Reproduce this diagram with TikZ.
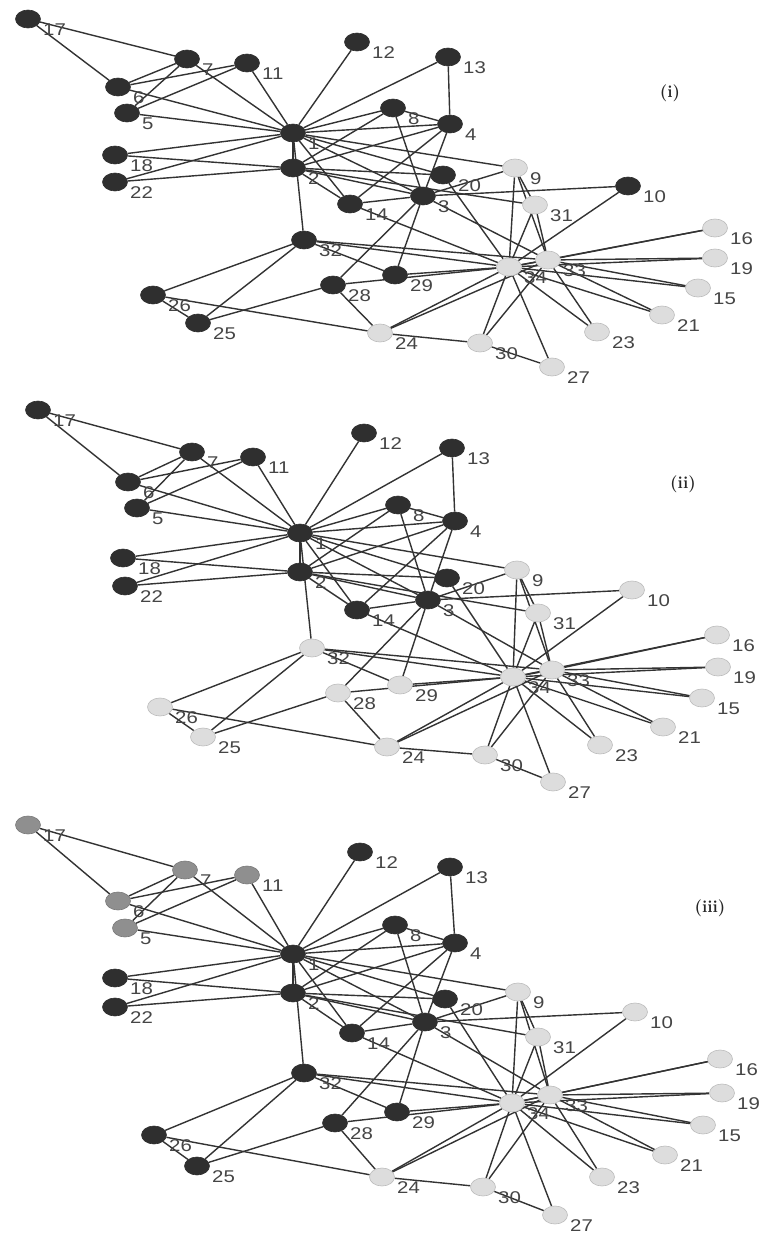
\documentclass[tikz,border=0pt]{standalone}
\usepackage{fontspec}
\newfontfamily\lblfont{Liberation Sans}
\newcommand\wide[1]{\scalebox{1.2}[1]{#1}}
\pgfdeclarelayer{paper}
\pgfdeclarelayer{bg}
\pgfsetlayers{paper,bg,main}
\definecolor{dk}{HTML}{2F2F2F}
\definecolor{md}{HTML}{8F8F8F}
\definecolor{lt}{HTML}{DDDDDD}
\definecolor{ltb}{HTML}{BDBDBD}
\definecolor{edgec}{HTML}{333333}
\definecolor{labc}{HTML}{454545}
\tikzset{
  vert/.style={ellipse, minimum width=25pt, minimum height=18pt, inner sep=0pt, line width=0.6pt},
  D/.style={vert, fill=dk, draw=dk},
  M/.style={vert, fill=md, draw=md!85!black},
  L/.style={vert, fill=lt, draw=ltb},
  lbl/.style={font=\lblfont\fontsize{17}{17}\selectfont, text=labc, inner sep=0pt, anchor=west},
  edge/.style={draw=edgec, line width=1.4pt},
  ptitle/.style={font=\bfseries\fontsize{17}{17}\selectfont, text=black!85}
}
\usetikzlibrary{shapes.geometric}
% the 78 friendships of the karate club
\newcommand\clubedges[1]{%
  \begin{pgfonlayer}{bg}
  \foreach \a/\b in {1/2,1/3,1/4,1/5,1/6,1/7,1/8,1/9,1/11,1/12,1/13,1/14,1/18,1/20,1/22,1/32,
    2/3,2/4,2/8,2/14,2/18,2/20,2/22,2/31,
    3/4,3/8,3/9,3/10,3/14,3/28,3/29,3/33,
    4/8,4/13,4/14,5/7,5/11,6/7,6/11,6/17,7/17,
    9/31,9/33,9/34,10/34,14/34,15/33,15/34,16/33,16/34,19/33,19/34,20/34,
    21/33,21/34,23/33,23/34,24/26,24/28,24/30,24/33,24/34,25/26,25/28,25/32,26/32,
    27/30,27/34,28/34,29/32,29/34,30/33,30/34,31/33,31/34,32/33,32/34,33/34}
    {\draw[edge] (#1\a) -- (#1\b);}
  \end{pgfonlayer}}
\begin{document}
\begin{tikzpicture}[x=1pt, y=-1pt]
\useasboundingbox (0,0) rectangle (762,1235);
\begin{pgfonlayer}{paper}
\fill[white] (0,0) rectangle (762,1235);
\end{pgfonlayer}

% ---- panel (i)
\foreach \n/\x/\y/\s in {1/293/133/D,2/293/168/D,3/423/196/D,4/450/124/D,5/127/113/D,
  6/118/87/D,7/187/59/D,8/393/108/D,9/515/168/L,10/628/186/D,11/247/63/D,12/357/42/D,
  13/448/57/D,14/350/204/D,15/698/288/L,16/715/228/L,17/28/19/D,18/115/155/D,19/715/258/L,
  20/443/175/D,21/662/315/L,22/115/182/D,23/597/332/L,24/380/333/L,25/198/323/D,
  26/153/295/D,27/552/367/L,28/333/285/D,29/395/275/D,30/480/343/L,31/535/205/L,
  32/304/240/D,33/548/260/L,34/509/267/L}
  {\node[\s] (a\n) at (\x,\y) {};
   \node[lbl] (a\n l) at (\x+15,\y+11) {\wide{\n}};}
\clubedges{a}
\node[ptitle] (ta) at (670,93) {(i)};

% ---- panel (ii)
\foreach \n/\x/\y/\s in {1/300/533/D,2/300/572/D,3/428/600/D,4/455/521/D,5/137/508/D,
  6/128/482/D,7/192/452/D,8/398/505/D,9/517/570/L,10/632/590/L,11/253/457/D,12/364/433/D,
  13/452/448/D,14/357/610/D,15/702/698/L,16/717/635/L,17/38/410/D,18/123/558/D,19/718/667/L,
  20/447/578/D,21/663/727/L,22/125/586/D,23/600/745/L,24/387/747/L,25/203/737/L,
  26/160/707/L,27/553/782/L,28/338/693/L,29/400/685/L,30/485/755/L,31/538/613/L,
  32/312/648/L,33/552/670/L,34/513/677/L}
  {\node[\s] (b\n) at (\x,\y) {};
   \node[lbl] (b\n l) at (\x+15,\y+11) {\wide{\n}};}
\clubedges{b}
\node[ptitle] (tb) at (683,484) {(ii)};

% ---- panel (iii)
\foreach \n/\x/\y/\s in {1/293/954/D,2/293/993/D,3/425/1022/D,4/455/943/D,5/125/928/M,
  6/118/901/M,7/185/870/M,8/395/925/D,9/518/992/L,10/635/1012/L,11/247/875/M,12/360/852/D,
  13/450/867/D,14/352/1033/D,15/703/1125/L,16/720/1059/L,17/28/825/M,18/115/978/D,19/722/1093/L,
  20/445/999/D,21/665/1155/L,22/115/1007/D,23/602/1177/L,24/382/1177/L,25/197/1166/D,
  26/154/1135/D,27/555/1215/L,28/335/1123/D,29/397/1112/D,30/483/1187/L,31/538/1037/L,
  32/304/1073/D,33/550/1095/L,34/512/1103/L}
  {\node[\s] (c\n) at (\x,\y) {};
   \node[lbl] (c\n l) at (\x+15,\y+11) {\wide{\n}};}
\clubedges{c}
\node[ptitle] (tc) at (710,908) {(iii)};
\end{tikzpicture}
\end{document}
